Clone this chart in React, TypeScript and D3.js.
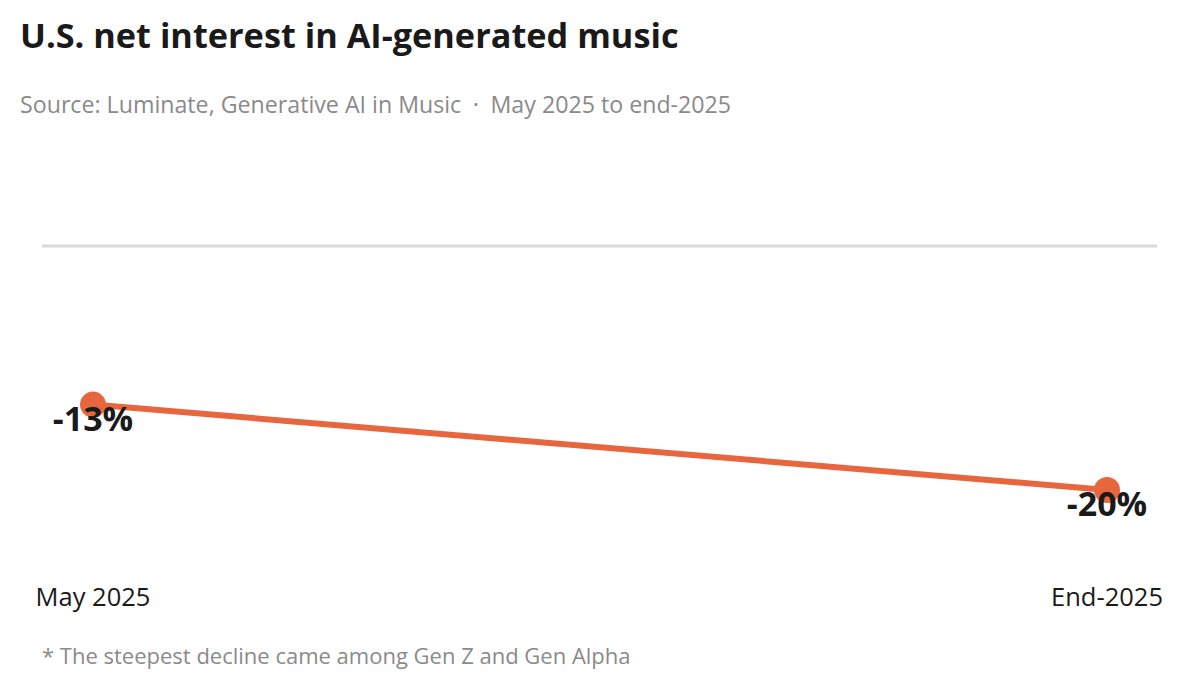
import * as d3 from 'd3';

const periods = ['May 2025', 'End-2025'];
const netInterest = [-13, -20];
const gridValues = [0];
const title = 'U.S. net interest in AI-generated music';
const subtitle = 'Source: Luminate, Generative AI in Music\u2002\u00b7\u2002May 2025 to end-2025';
const footnote = '* The steepest decline came among Gen Z and Gen Alpha';

const W = 1185;
const H = 688;
const FONT = '"Open Sans", "Noto Sans", sans-serif';
const ACCENT = '#e8663d';

export default function App() {
  const x = d3.scalePoint<string>()
    .domain(periods)
    .range([93, 1107]);

  const y = d3.scaleLinear()
    .domain([-25, 0])
    .range([551, 246]);

  const points = periods.map((p, i) => ({ p, v: netInterest[i] }));

  const line = d3.line<{ p: string; v: number }>()
    .x(d => x(d.p) || 0)
    .y(d => y(d.v));

  return (
    <svg
      width={W}
      height={H}
      style={{ position: 'absolute', left: 0, top: 0, background: '#fff', fontFamily: FONT }}
    >
      <text x={20} y={48} fontSize={34.3} fontWeight={700} fill="#1a1a1a">{title}</text>
      <text x={20} y={113} fontSize={23.2} fill="#8a8a8a" style={{ whiteSpace: 'pre' }}>{subtitle}</text>

      {/* gridline at zero */}
      {gridValues.map(v => (
        <line key={v} x1={42} x2={1157} y1={y(v)} y2={y(v)} stroke="#d9d9d9" strokeWidth={3} />
      ))}

      <path d={line(points) || ''} fill="none" stroke={ACCENT} strokeWidth={6} strokeLinecap="round" />

      {points.map(d => (
        <circle key={d.p} cx={x(d.p)} cy={y(d.v)} r={13} fill={ACCENT} />
      ))}

      {points.map(d => (
        <text
          key={d.p + '-lbl'}
          x={x(d.p)}
          y={y(d.v) + 26}
          textAnchor="middle"
          fontSize={34}
          fontWeight={700}
          fill="#1a1a1a"
        >
          {`${d.v}%`}
        </text>
      ))}

      {periods.map(p => (
        <text key={p + '-tick'} x={x(p)} y={606} textAnchor="middle" fontSize={25.5} fill="#1a1a1a">
          {p}
        </text>
      ))}

      <text x={42} y={664} fontSize={22} fill="#8a8a8a">{footnote}</text>
    </svg>
  );
}
